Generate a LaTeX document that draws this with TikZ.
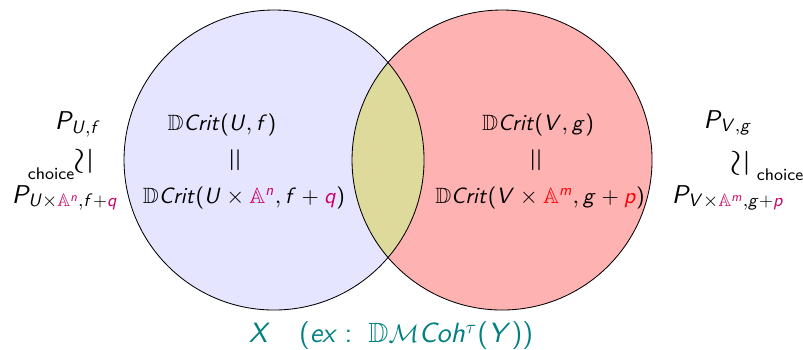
\documentclass[tikz,border=0pt]{standalone}
\usepackage{amsmath,amssymb}
\renewcommand{\familydefault}{\sfdefault}
\DeclareFontFamily{OT1}{cmss}{\hyphenchar\font45 }
\DeclareFontShape{OT1}{cmss}{m}{n}{<-> cmss10}{}
\DeclareFontShape{OT1}{cmss}{m}{sl}{<-> cmssi10}{}
\SetSymbolFont{operators}{normal}{OT1}{cmss}{m}{n}
\DeclareSymbolFont{sfit}{OT1}{cmss}{m}{sl}
\makeatletter
\@tempcnta=`A
\loop\ifnum\@tempcnta<`[
  \mathcode\@tempcnta=\numexpr"7000+\symsfit*"100+\@tempcnta\relax
  \advance\@tempcnta by 1
\repeat
\@tempcnta=`a
\loop\ifnum\@tempcnta<`\{
  \mathcode\@tempcnta=\numexpr"7000+\symsfit*"100+\@tempcnta\relax
  \advance\@tempcnta by 1
\repeat
\makeatother
\usepackage{tikz}
\usetikzlibrary{positioning}

\definecolor{critpink}{RGB}{204,0,102}
\newcommand{\vsim}{{\fontsize{16}{18}\selectfont\rotatebox{90}{$\simeq$}}}
\newcommand{\veq}{\rotatebox{90}{$=$}}
\newcommand{\choicesub}{$_{\text{choice}}$}

\begin{document}
\begin{tikzpicture}[
    crit/.style={font=\fontsize{10.5}{13}\selectfont},
    perv/.style={font=\fontsize{12.2}{15}\selectfont},
    iso/.style={font=\fontsize{12}{15}\selectfont},
    vert/.style={font=\fontsize{15}{18}\selectfont}
  ]
    \useasboundingbox (0,0) rectangle (13.383,5.817);

    % Two sets
    \fill[blue!10] (4.567,3.15) circle (2.5);
    \fill[red!30] (8.367,3.15) circle (2.5);
    \begin{scope}
        \clip (4.567,3.15) circle (2.5);
        \fill[olive!30] (8.367,3.15) circle (2.5);
    \end{scope}
    \draw (4.567,3.15) circle (2.5);
    \draw (8.367,3.15) circle (2.5);

    % Left set
    \node[crit] (critUf) at (3.70,3.733) {$\mathbb{D}Crit(U,f)$};
    \node[vert] (eqL) at (3.95,3.15) {\veq};
    \node[crit] (critUn) at (4.067,2.517) {$\mathbb{D}Crit(U\times{\color{critpink}\mathbb{A}^n},f+{\color{critpink}q})$};

    % Right set
    \node[crit] (critVg) at (8.967,3.733) {$\mathbb{D}Crit(V,g)$};
    \node[vert] (eqR) at (8.967,3.15) {\veq};
    \node[crit] (critVm) at (9.0,2.517) {$\mathbb{D}Crit(V\times{\color{red}\mathbb{A}^m},g+{\color{red}p})$};

    % Perverse sheaves
    \node[perv] (PUf) at (1.3,3.75) {$P_{U,f}$};
    \node[iso] (isoL) at (1.0,3.1) {\choicesub\vsim};
    \node[perv] (PUn) at (1.083,2.52) {$P_{U\times{\color{critpink}\mathbb{A}^n},f+{\color{critpink}q}}$};

    \node[perv] (PVg) at (12.133,3.77) {$P_{V,g}$};
    \node[iso] (isoR) at (12.8,3.07) {\vsim\ \choicesub};
    \node[perv] (PVm) at (12.133,2.52) {$P_{V\times{\color{critpink}\mathbb{A}^m},g+{\color{critpink}p}}$};

    % Ambient
    \node[teal, font=\fontsize{13.2}{16}\selectfont] (amb) at (6.517,0.22) {$X\quad(ex:\ \mathbb{D}\mathcal{M}Coh^{\tau}(Y))$};
\end{tikzpicture}
\end{document}
